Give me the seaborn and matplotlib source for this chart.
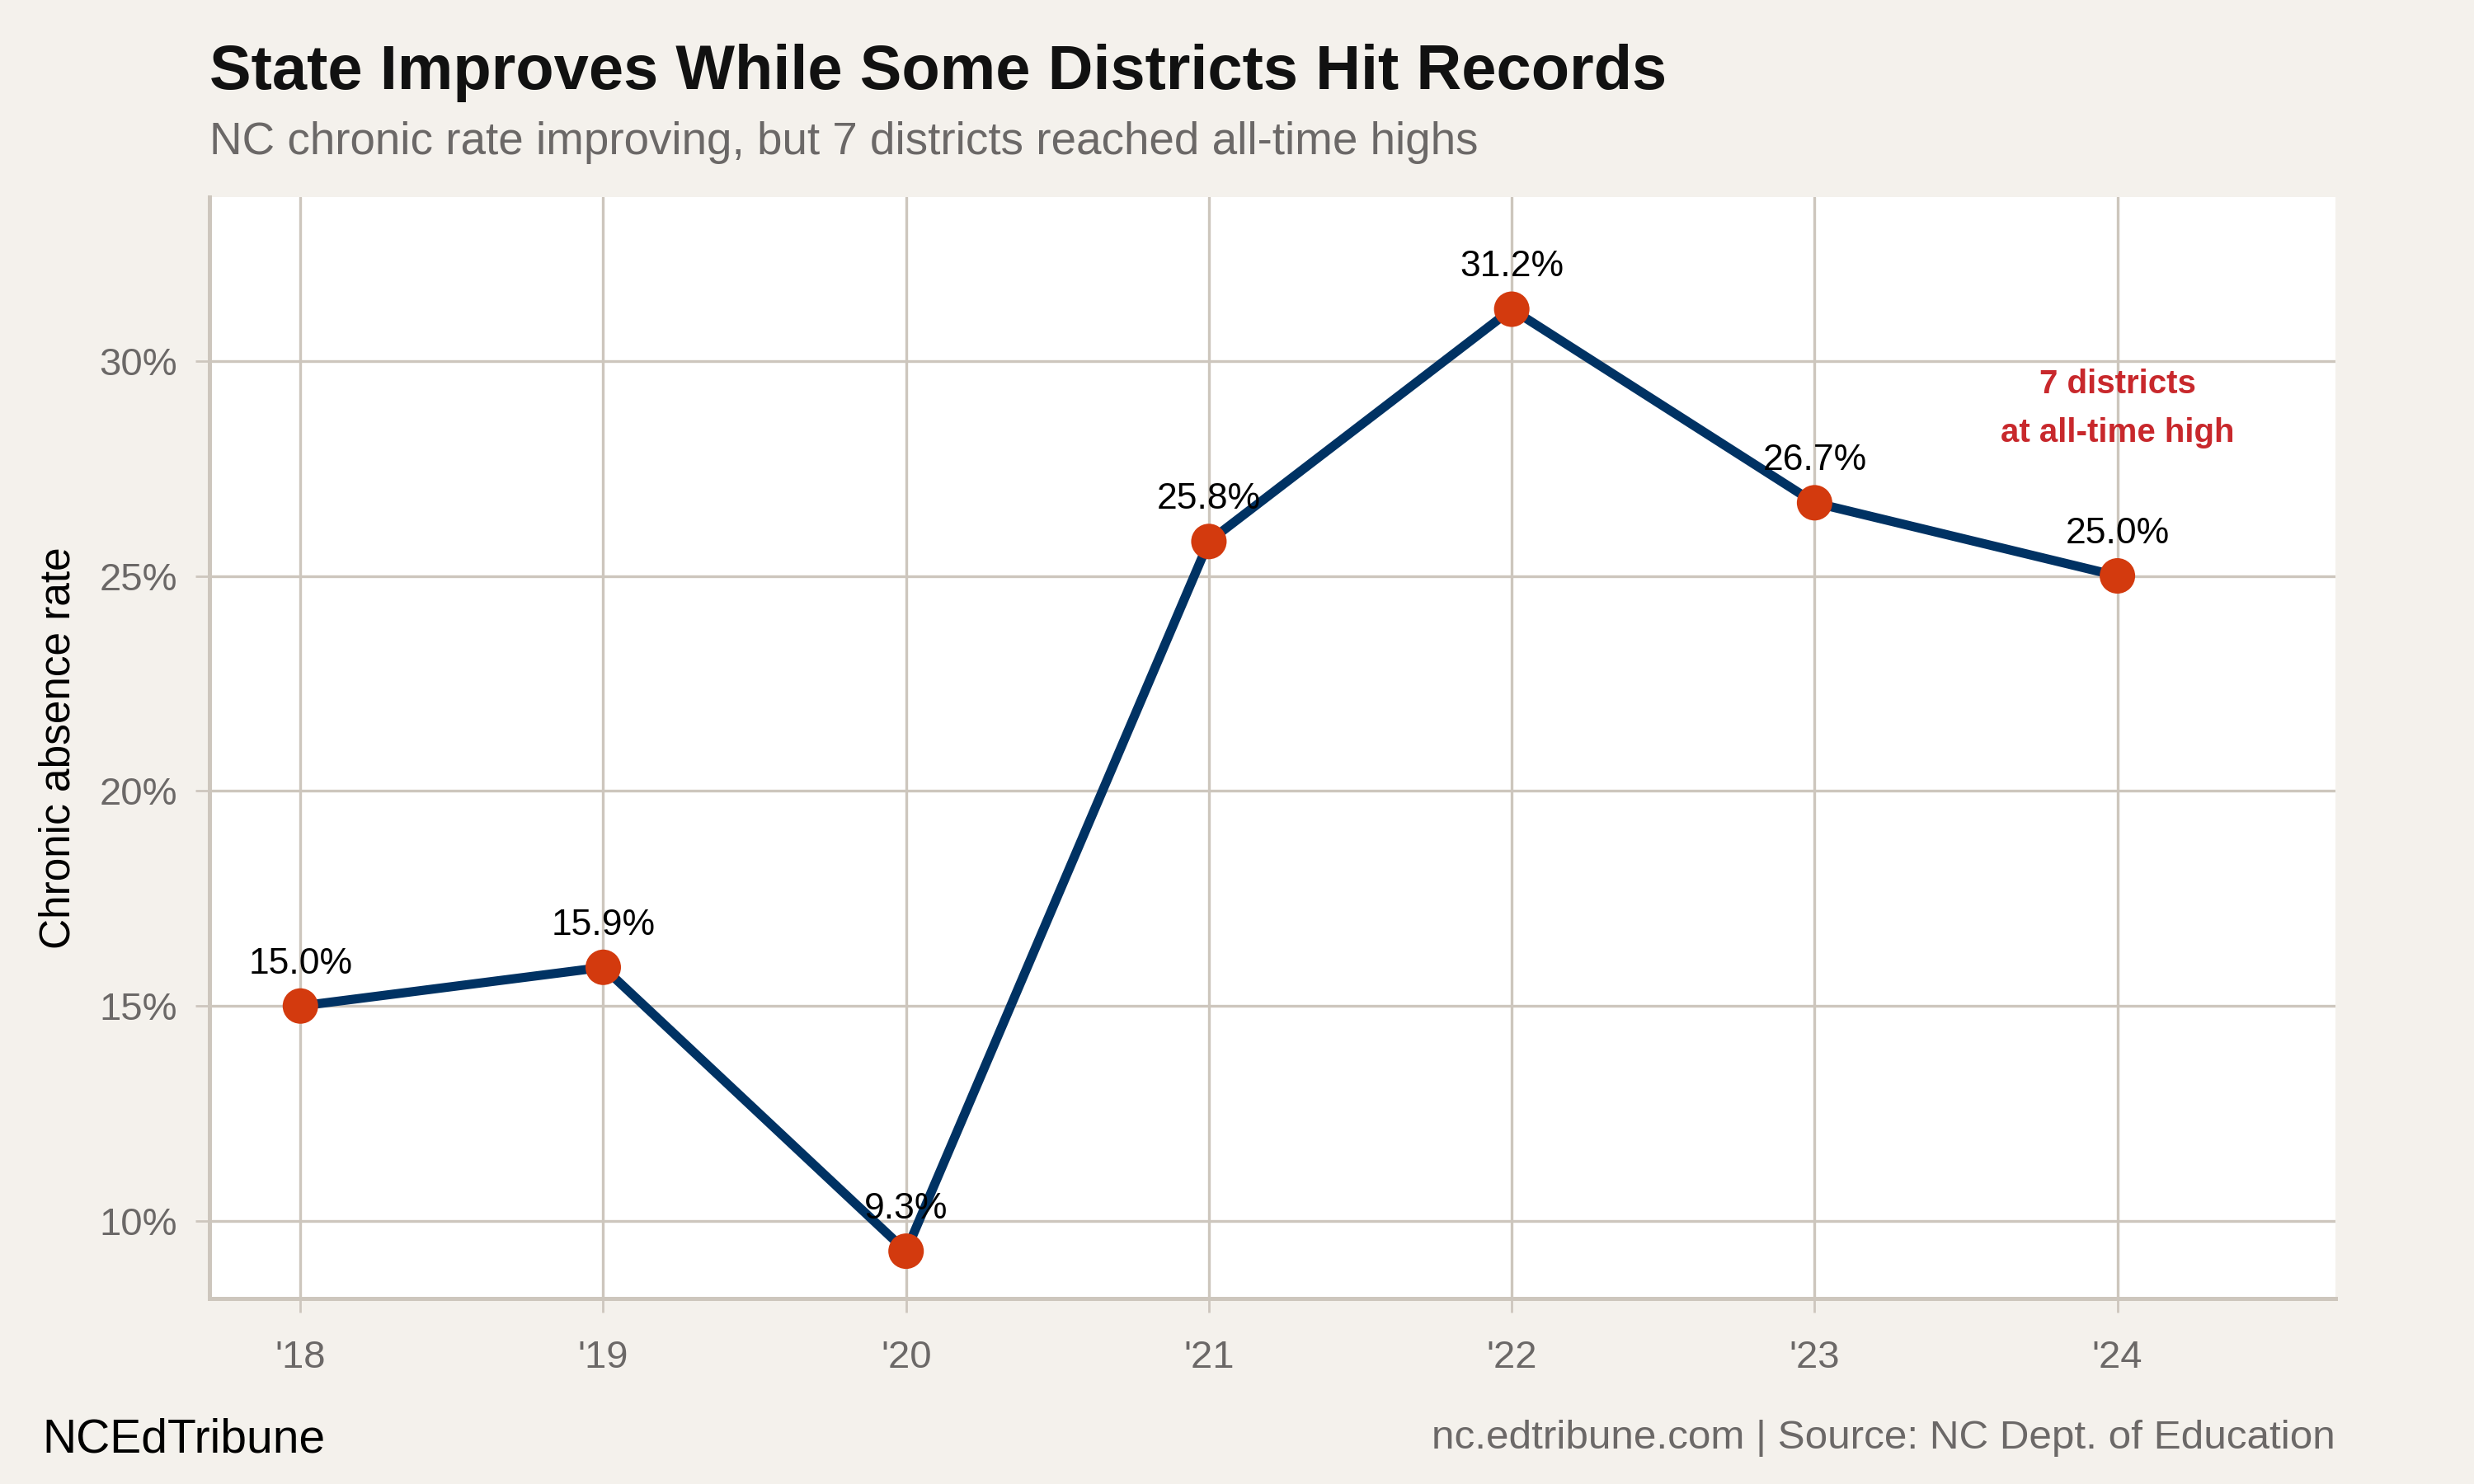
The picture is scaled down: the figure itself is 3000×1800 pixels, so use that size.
import numpy as np
import pandas as pd
import seaborn as sns
import matplotlib.pyplot as plt
from matplotlib.ticker import FuncFormatter

years = ["'18", "'19", "'20", "'21", "'22", "'23", "'24"]
rates = [15.0, 15.9, 9.3, 25.8, 31.2, 26.7, 25.0]
y_ticks = [10, 15, 20, 25, 30]

df = pd.DataFrame({'year': years, 'rate': rates})
df['pos'] = range(len(df))

bg = '#f4f1ec'
grid_col = '#cdc6bd'
navy = '#003263'
orange = '#d33a0e'

sns.set_theme(style='whitegrid')
plt.rcParams['font.family'] = ['Liberation Sans', 'DejaVu Sans']

fig = plt.figure(figsize=(15, 9), dpi=200, facecolor=bg)
ax = fig.add_axes([0.0847, 0.125, 0.8593, 0.742])
ax.set_facecolor('white')

sns.lineplot(data=df, x='pos', y='rate', color=navy, linewidth=4, ax=ax, zorder=3)
sns.scatterplot(data=df, x='pos', y='rate', color=orange, s=240, edgecolor='none', ax=ax, zorder=4)

for _, r in df.iterrows():
    ax.annotate(f"{r['rate']:.1f}%", (r['pos'], r['rate']), xytext=(0, 11),
                textcoords='offset points', ha='center', va='bottom', fontsize=16, color='black', zorder=5)

ax.text(6, 28.9, '7 districts\nat all-time high', ha='center', va='center', color='#c8282c',
        fontsize=14.5, fontweight='bold', linespacing=1.7, zorder=5)

ax.set_xlim(-0.3, 6.72)
ax.set_ylim(8.2, 33.8)
ax.set_xticks(df['pos'])
ax.set_xticklabels(years)
ax.set_yticks(y_ticks)
ax.yaxis.set_major_formatter(FuncFormatter(lambda v, p: f'{v:.0f}%'))

ax.grid(True, color=grid_col, linewidth=1.2)
ax.set_axisbelow(True)
for s in ['top', 'right']:
    ax.spines[s].set_visible(False)
for s in ['left', 'bottom']:
    ax.spines[s].set_visible(True)
    ax.spines[s].set_color(grid_col)
    ax.spines[s].set_linewidth(1.8)

ax.tick_params(axis='both', which='major', length=6, width=1, color=grid_col,
               labelsize=17, labelcolor='#6b6867', pad=8, left=True, bottom=True)
ax.tick_params(axis='x', pad=12)
ax.set_xlabel('')
ax.set_ylabel('Chronic absence rate', fontsize=18.5, color='black', labelpad=9)

fig.text(0.0847, 0.951, 'State Improves While Some Districts Hit Records', fontsize=27.3,
         fontweight='bold', color='#111111', ha='left', va='center')
fig.text(0.0847, 0.904, 'NC chronic rate improving, but 7 districts reached all-time highs', fontsize=19.7,
         color='#6b6867', ha='left', va='center')
fig.text(0.017, 0.03, 'NCEdTribune', fontsize=20.5, color='black', ha='left', va='center')
fig.text(0.944, 0.031, 'nc.edtribune.com | Source: NC Dept. of Education', fontsize=17.8,
         color='#6b6867', ha='right', va='center')

fig.savefig('out.png', dpi=200, facecolor=bg)
